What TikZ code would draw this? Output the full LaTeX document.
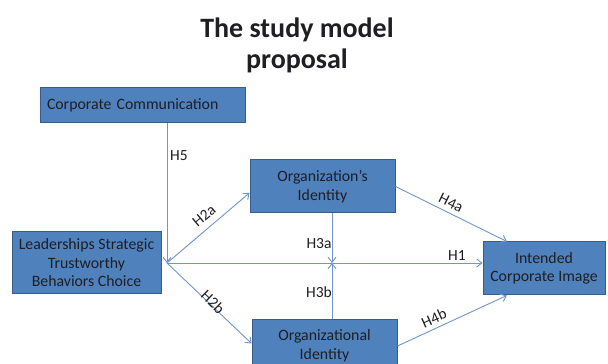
\documentclass[tikz,border=0pt]{standalone}
\usepackage{fontspec}
\setmainfont{Carlito}
\usetikzlibrary{arrows.meta}

\begin{document}
\begin{tikzpicture}[x=1pt,y=1pt,
  box/.style={draw=boxLine,fill=boxFill,line width=1pt,text=textColor,align=center,inner sep=0pt,font=\fontsize{15.8}{18.5}\selectfont},
  link/.style={draw=linkColor,line width=0.9pt,-{Straight Barb[length=5pt,width=8pt]}},
  hyp/.style={text=textColor,inner sep=0pt,font=\fontsize{15.5}{16}\selectfont}]
\definecolor{boxFill}{RGB}{79,129,189}
\definecolor{boxLine}{RGB}{56,93,138}
\definecolor{linkColor}{RGB}{110,150,205}
\definecolor{textColor}{RGB}{30,30,35}
\path[use as bounding box,fill=white] (0,0) rectangle (608,364);
\begin{scope}
\path[clip] (0,0) rectangle (608,364);

\node[text=textColor,align=center,font=\fontsize{28}{31}\selectfont\bfseries] (title) at (297,318.5) {The study model\\proposal};

\node[box,minimum width=205,minimum height=35,text width=191,align=left] (cc) at (142.5,258.5) {Corporate Communication};
\node[box,minimum width=149,minimum height=62] (lead) at (86.5,101) {Leaderships Strategic\\Trustworthy\\Behaviors Choice};
\node[box,minimum width=145,minimum height=53] (oi) at (322.5,177.5) {Organization's\\Identity};
\node[box,minimum width=145,minimum height=53] (oid) at (324.5,18) {Organizational\\Identity};
\node[box,minimum width=122,minimum height=53] (icl) at (544,95.5) {Intended\\Corporate Image};

\coordinate (j) at (167,101);
\coordinate (m) at (332,101);

\draw[link] (cc.south -| j) -- (j);
\draw[link] (j) -- (oi.185);
\draw[link] (j) -- (oid.178);
\draw[link] (j) -- (j -| icl.west);
\draw[link] (oi.south -| m) -- (m);
\draw[link] (oid.north -| m) -- (m);
\draw[link] (oi.east) -- (icl.144);
\draw[link] (oid.east) -- (icl.216);

\node[hyp] (h5) at (179,208) {H5};
\node[hyp,rotate=40] (h2a) at (204,148) {H2a};
\node[hyp,rotate=-44] (h2b) at (213,62) {H2b};
\node[hyp] (h1) at (457,108) {H1};
\node[hyp] (h3a) at (319,120) {H3a};
\node[hyp] (h3b) at (319,72) {H3b};
\node[hyp,rotate=-26] (h4a) at (451,161) {H4a};
\node[hyp,rotate=24] (h4b) at (434,46) {H4b};
\end{scope}
\end{tikzpicture}
\end{document}
